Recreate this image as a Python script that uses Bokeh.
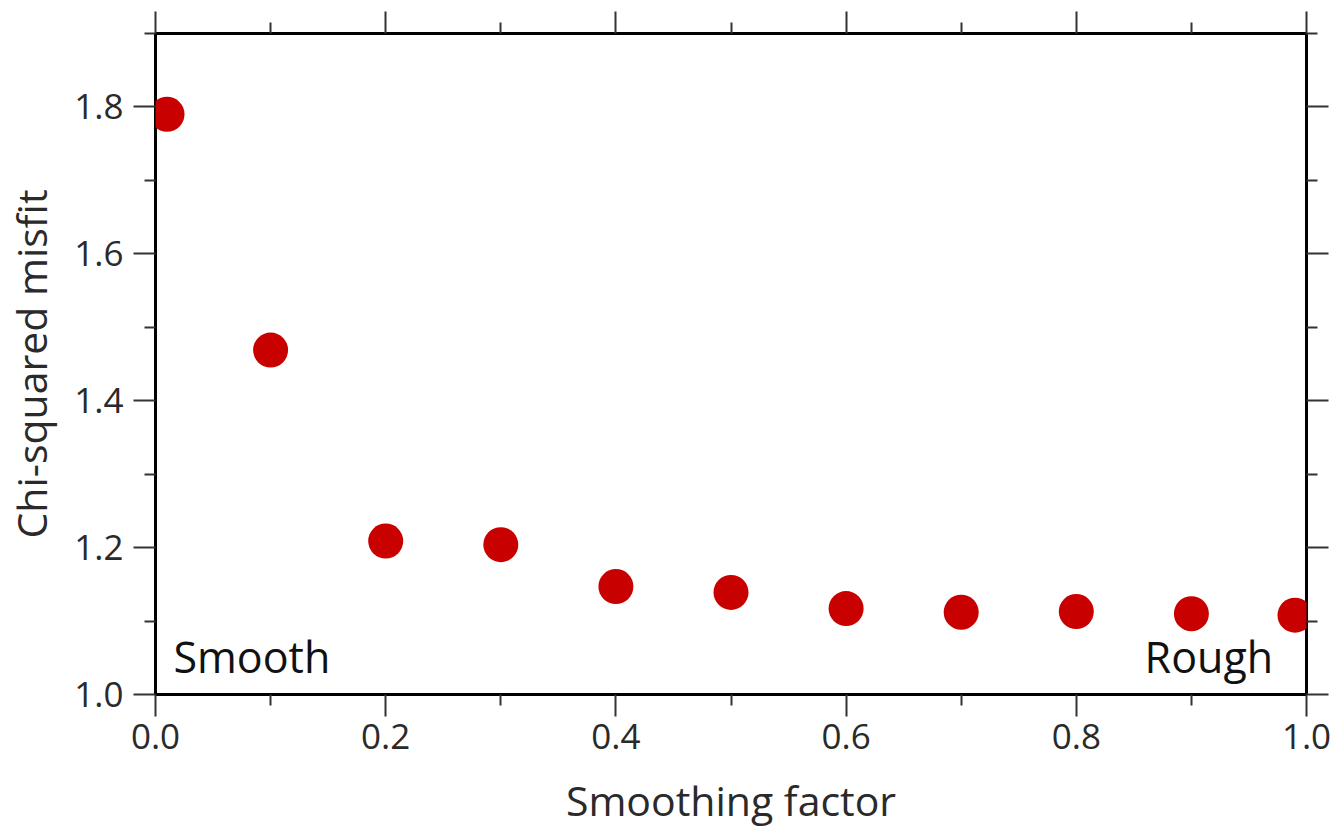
from bokeh.plotting import figure
from bokeh.models import LinearAxis, FixedTicker, Range1d, Label, ColumnDataSource, CustomJSTickFormatter
from bokeh.embed import file_html
from bokeh.resources import INLINE

# Data
smoothing = [0.01, 0.1, 0.2, 0.3, 0.4, 0.5, 0.6, 0.7, 0.8, 0.9, 0.99]
misfit = [1.79, 1.469, 1.209, 1.204, 1.147, 1.139, 1.117, 1.112, 1.113, 1.110, 1.108]
x_major = [0.0, 0.2, 0.4, 0.6, 0.8, 1.0]
x_minor = [0.1, 0.3, 0.5, 0.7, 0.9]
y_major = [1.0, 1.2, 1.4, 1.6, 1.8]
y_minor = [1.1, 1.3, 1.5, 1.7, 1.9]
x_label = "Smoothing factor"
y_label = "Chi-squared misfit"
note_left = "Smooth"
note_right = "Rough"

FONT = "Open Sans"
TXT = "#2a2a2a"

p = figure(width=1338, height=832, output_backend="svg", toolbar_location=None,
           x_range=Range1d(0, 1.0), y_range=Range1d(1.0, 1.9),
           x_axis_location=None, y_axis_location=None,
           min_border_left=154, min_border_right=32, min_border_top=33, min_border_bottom=138)
p.grid.visible = False
p.outline_line_color = "black"
p.outline_line_width = 3
p.background_fill_color = "white"
p.border_fill_color = "white"

xt = FixedTicker(ticks=x_major, minor_ticks=x_minor)
yt = FixedTicker(ticks=y_major, minor_ticks=y_minor)


def style(ax):
    ax.axis_line_color = None
    ax.major_tick_line_color = "#333333"
    ax.minor_tick_line_color = "#333333"
    ax.major_tick_line_width = 2
    ax.minor_tick_line_width = 2
    ax.major_tick_in = 0
    ax.major_tick_out = 22
    ax.minor_tick_in = 0
    ax.minor_tick_out = 11
    ax.major_label_text_font = FONT
    ax.major_label_text_color = TXT
    ax.major_label_text_font_size = "35px"
    ax.axis_label_text_font = FONT
    ax.axis_label_text_font_style = "normal"
    ax.axis_label_text_color = TXT
    ax.axis_label_text_font_size = "41px"


bottom = LinearAxis(ticker=xt, axis_label=x_label,
                    formatter=CustomJSTickFormatter(code="return tick.toFixed(1);"))
style(bottom)
bottom.major_label_standoff = 7
bottom.axis_label_standoff = 20
p.add_layout(bottom, "below")

left = LinearAxis(ticker=yt, axis_label=y_label,
                  formatter=CustomJSTickFormatter(code="return tick.toFixed(1);"))
style(left)
left.major_label_standoff = 10
left.axis_label_standoff = 12
p.add_layout(left, "left")

top = LinearAxis(ticker=xt, formatter=CustomJSTickFormatter(code="return '';"))
style(top)
top.major_label_standoff = 0
p.add_layout(top, "above")

right = LinearAxis(ticker=yt, formatter=CustomJSTickFormatter(code="return '';"))
style(right)
right.major_label_standoff = 0
p.add_layout(right, "right")

src = ColumnDataSource(dict(x=smoothing, y=misfit))
p.scatter("x", "y", source=src, size=35, fill_color="#c80000", line_color=None, level="underlay")

p.add_layout(Label(x=0.0156, y=1.052, text=note_left, text_font=FONT, text_font_size="43px",
                   text_color="#111111", text_baseline="alphabetic", text_align="left"))
p.add_layout(Label(x=0.971, y=1.052, text=note_right, text_font=FONT, text_font_size="43px",
                   text_color="#111111", text_baseline="alphabetic", text_align="right"))

open("out.html", "w").write(file_html(p, INLINE))
